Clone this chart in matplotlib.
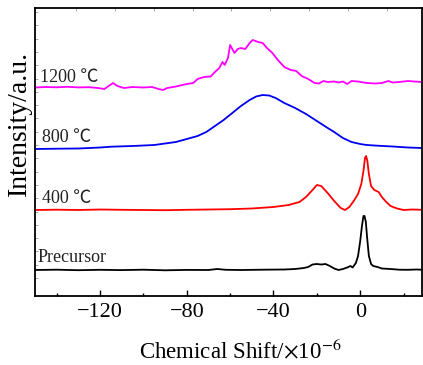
import numpy as np
import matplotlib.pyplot as plt

plt.rcParams['font.family'] = ['Liberation Serif', 'DejaVu Serif']
plt.rcParams['mathtext.fontset'] = 'stix'

# chemical shift (x 10^-6) and offset intensity for each spectrum
prec_x = [-150, -140, -130, -120, -110, -100, -90, -80, -70, -66, -62, -55, -45, -35, -30,
          -26, -24, -22, -20, -18, -16, -14, -12, -10, -8, -6, -4.5, -3.5, -2, -1, 0, 0.8,
          1.5, 2, 2.6, 3.2, 4, 5, 6, 8, 10, 14, 18, 22, 26, 28.5]
prec_y = [26, 26.3, 25.8, 26.2, 25.9, 26.3, 25.7, 26.1, 26.0, 27, 26.2, 26.0, 26.3, 26.5, 27,
          28, 29, 31.5, 32, 31.5, 32, 30, 27.5, 26, 27, 28.5, 30, 28.5, 33, 40, 55, 70,
          80, 80, 74, 58, 40, 32, 30, 29, 27.5, 27, 26.3, 26.2, 26.5, 26.3]

t400_x = [-150, -140, -130, -120, -110, -100, -90, -80, -70, -60, -50, -40, -33, -28, -25,
          -22, -20, -18, -15, -12, -9, -7, -5, -3, -1, 0.5, 1.5, 2.2, 2.7, 3.3, 4, 5,
          6.5, 8.5, 10, 12, 14, 17, 20, 24, 28.5]
t400_y = [86, 86.3, 86, 86.5, 86.2, 86.0, 85.8, 86.2, 86.5, 86.8, 87.5, 89, 91, 94, 99,
          106, 111, 110, 103, 95, 88, 86, 89, 95, 102, 112, 125, 138, 140, 135, 122, 110,
          106, 104, 99, 94, 90, 87.5, 86, 86.5, 86.2]

t800_x = [-150, -140, -130, -120, -115, -105, -95, -85, -80, -75, -71, -67, -63, -59, -55,
          -51, -48, -45, -42, -39, -35, -30, -25, -20, -15, -12, -8, -4, 0, 3, 8, 15, 22, 28.5]
t800_y = [147, 147.3, 147.5, 148.5, 149.3, 150, 151, 154, 157, 160, 164, 170, 176, 183, 190,
          196, 199.5, 201, 200.5, 198, 193, 188, 182, 175, 168, 164, 158, 154, 152, 151,
          150.3, 149.5, 148.5, 148]

t1200_x = [-150, -145, -140, -135, -130, -125, -121, -118, -116, -114, -112, -109, -105, -100,
           -96, -93, -91, -89, -85, -80, -77, -75, -72, -69, -67, -65, -63.5, -62.5, -61, -60,
           -59, -58, -56.5, -55, -53, -51, -49.6, -47, -45, -43, -40.5, -38, -35, -32, -29.5,
           -27, -24, -21, -19, -17, -15, -12, -10, -8, -6, -4, -1, 3, 7, 10, 13, 15, 18, 22,
           25, 28.5]
t1200_y = [208.5, 209, 208.7, 209.2, 208.6, 208.8, 208, 207, 210, 213, 210, 208, 209, 208.5,
           209, 207, 206, 208, 209.5, 212, 213, 217, 219, 219.5, 224, 228, 234, 231, 238, 251,
           247, 243, 247, 248, 247, 253, 256, 254, 253, 248, 243, 236, 229, 226, 225,
           220, 217, 213, 212.5, 215, 214, 214.5, 213.5, 214.5, 212, 215, 214.5, 213, 212.5,
           213, 215, 213.5, 214, 215, 214.5, 214]

labels = ['Precursor', '400 \u2103', '800 \u2103', '1200 \u2103']
colors = ['black', 'red', '#0000ee', '#ff00ff']
label_pos = [(-149, 34), (-146.8, 93), (-147, 154), (-147.6, 214)]

fig = plt.figure(figsize=(4.23, 3.65), dpi=100)
ax = fig.add_axes([35 / 423, 69 / 365, 387 / 423, 288 / 365])

for (x, y), c, lab, (tx, ty) in zip([(prec_x, prec_y), (t400_x, t400_y), (t800_x, t800_y),
                                     (t1200_x, t1200_y)], colors, labels, label_pos):
    ax.plot(x, y, color=c, lw=1.3)
    ax.text(tx, ty, lab, fontsize=13, color='#222222',
            family=['Liberation Serif', 'Noto Sans CJK SC'])

ax.set_xlim(-150, 28.5)
ax.set_ylim(0, 288)
ax.set_xticks([-120, -80, -40, 0])
ax.set_xticklabels(['\u2212120', '\u221280', '\u221240', '0'])
ax.set_xticks([-140, -100, -60, -20, 20], minor=True)
ax.tick_params(axis='x', which='major', direction='in', length=4, width=1, labelsize=16, pad=5)
ax.tick_params(axis='x', which='minor', direction='in', length=2.5, width=1)

# faint ticks on left and top
ax.set_yticks(np.arange(18, 288, 13.3))
ax.tick_params(axis='y', direction='in', length=2, width=0.6, colors='#999999', labelleft=False)
top = ax.secondary_xaxis('top')
top.set_xticks(np.arange(-131, 28, 17.9))
top.tick_params(direction='in', length=2, width=0.6, colors='#999999', labeltop=False)
top.spines['top'].set_visible(False)

for s in ax.spines.values():
    s.set_linewidth(1.3)

ax.set_xlabel('Chemical Shift/$\\times$10$^{-6}$', fontsize=16.5)
ax.xaxis.set_label_coords(0.53, -0.148)
ax.set_ylabel('Intensity/a.u.', fontsize=20)
ax.yaxis.set_label_coords(-0.008, 0.6)

fig.savefig('out.png', dpi=100)
